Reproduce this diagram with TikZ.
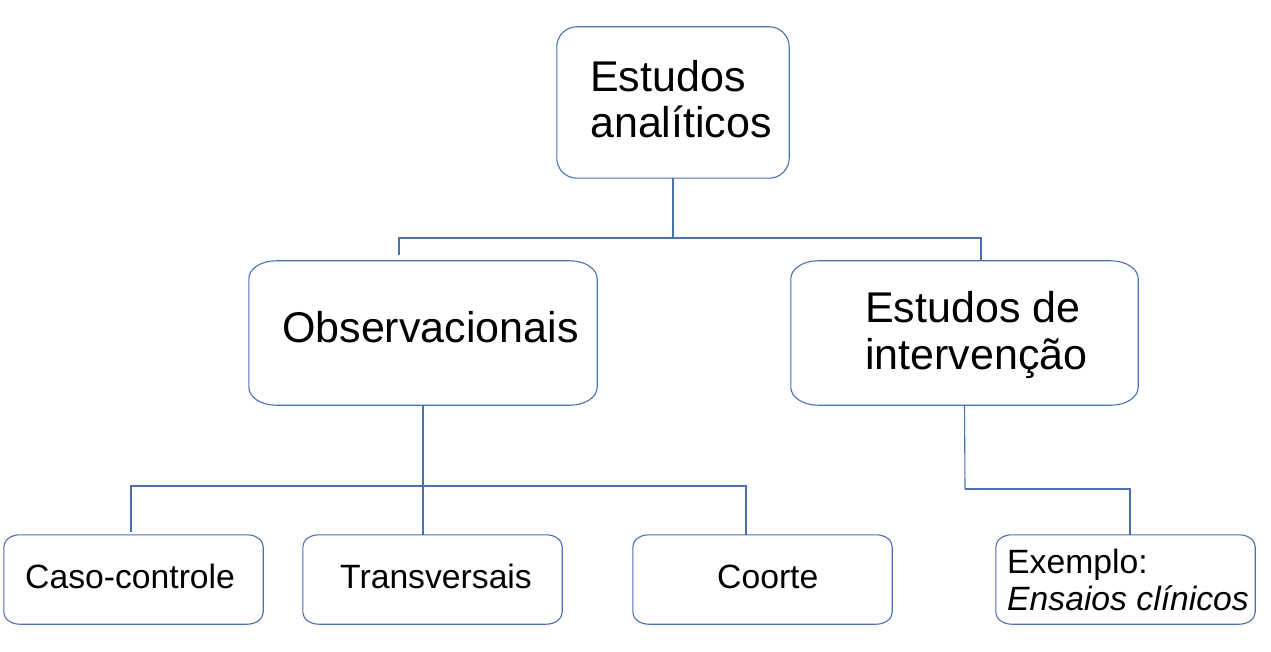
\documentclass[tikz,border=0pt]{standalone}
\usepackage{fontspec}
\setmainfont{Liberation Sans}
\definecolor{lineblue}{RGB}{74,112,176}
\newcommand\ellbox[3]{%
  \draw[boxline] ([xshift=#2]#1.north west) -- ([xshift=-#2]#1.north east)
    arc[start angle=90,end angle=0,x radius=#2,y radius=#3]
    -- ([yshift=#3]#1.south east)
    arc[start angle=0,end angle=-90,x radius=#2,y radius=#3]
    -- ([xshift=#2]#1.south west)
    arc[start angle=270,end angle=180,x radius=#2,y radius=#3]
    -- ([yshift=-#3]#1.north west)
    arc[start angle=180,end angle=90,x radius=#2,y radius=#3] -- cycle;}
\begin{document}
\begin{tikzpicture}[x=1pt,y=-1pt,
  boxline/.style={draw=lineblue,line width=1.1pt},
  conn/.style={draw=lineblue,line width=1.1pt},
  box/.style={inner sep=0pt,draw=none},
  bigtxt/.style={inner sep=0pt,anchor=base west,align=left,font=\fontsize{43}{46.5}\selectfont},
  smalltxt/.style={inner sep=0pt,anchor=base west,align=left,font=\fontsize{33.7}{37}\selectfont}]
\useasboundingbox (0,0) rectangle (1271,652);
\fill[white] (0,0) rectangle (1271,652);
% boxes
\node[box,minimum width=232pt,minimum height=151pt] (top) at (673,102.5) {};
\node[box,minimum width=348pt,minimum height=144pt] (obs) at (423,333) {};
\node[box,minimum width=347pt,minimum height=144pt] (int) at (964.5,333) {};
\node[box,minimum width=259pt,minimum height=89pt] (caso) at (133.5,579.5) {};
\node[box,minimum width=259pt,minimum height=89pt] (trans) at (432.5,579.5) {};
\node[box,minimum width=259pt,minimum height=89pt] (coorte) at (762.5,579.5) {};
\node[box,minimum width=259pt,minimum height=89pt] (ex) at (1125.5,579.5) {};
\ellbox{top}{20pt}{20pt}
\ellbox{obs}{27pt}{18pt}
\ellbox{int}{27pt}{18pt}
\ellbox{caso}{16pt}{12pt}
\ellbox{trans}{16pt}{12pt}
\ellbox{coorte}{16pt}{12pt}
\ellbox{ex}{16pt}{12pt}
% texts (base anchor = baseline of the last line)
\node[bigtxt] (ttop) at (590,138) {Estudos\\analíticos};
\node[bigtxt] (tobs) at (282,342) {Observacionais};
\node[bigtxt] (tint) at (865,369) {Estudos de\\intervenção};
\node[smalltxt] (tcaso) at (25,588) {Caso-controle};
\node[smalltxt] (ttrans) at (340,588) {Transversais};
\node[smalltxt] (tcoorte) at (717,588) {Coorte};
\node[smalltxt] (tex) at (1007,610) {Exemplo:\\\textit{Ensaios clínicos}};
% connectors
\coordinate (j1) at (673,238);
\coordinate (obsend) at (399,255);
\coordinate (j2) at (423,486);
\coordinate (casoend) at (131,532);
\coordinate (j3) at (965,489);
\draw[conn] (top.south) -- (j1);
\draw[conn] (j1) -| (obsend);
\draw[conn] (j1) -| ([xshift=16.5pt]int.north);
\draw[conn] (obs.south) -- (j2);
\draw[conn] (j2) -| (casoend);
\draw[conn] (j2) -- (j2 |- trans.north);
\draw[conn] (j2) -| ([xshift=-16.5pt]coorte.north);
\draw[conn] (int.south) -- (j3);
\draw[conn] (j3) -| ([xshift=4.5pt]ex.north);
\end{tikzpicture}
\end{document}
